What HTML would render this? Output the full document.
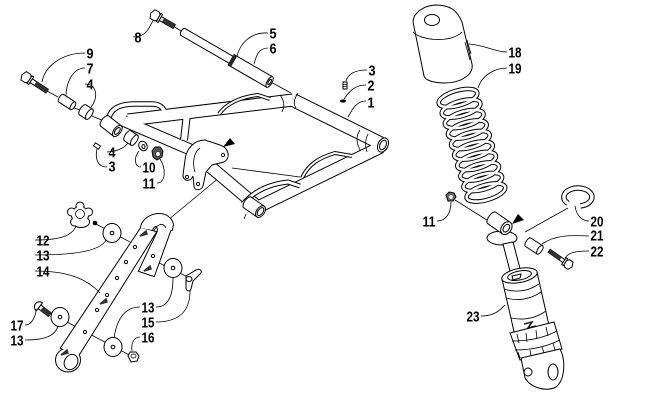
<!DOCTYPE html>
<html><head><meta charset="utf-8">
<style>
html,body{margin:0;padding:0;background:#fff;}
svg{display:block;}
text{font-family:"Liberation Sans Narrow","Liberation Sans",sans-serif;font-weight:bold;font-size:15px;fill:#000;}
.l{fill:none;stroke:#000;stroke-width:0.8;}
.s{fill:#fff;stroke:#000;stroke-width:1;}
.k{fill:#000;}
</style></head>
<body>
<svg width="650" height="406" viewBox="0 0 650 406" xmlns="http://www.w3.org/2000/svg">
<rect width="650" height="406" fill="#fff"/>

<!-- ===== assembly lines (behind) ===== -->
<path class="l" d="M173,26 L183,32 M269,81 L291,93"/>
<path class="l" d="M47,91 L58,97 M74,108 L80,110 M92,116 L104,121"/>
<path class="l" d="M220,177 L168,220"/>
<path class="l" d="M232,168 L300,177"/>
<path class="l" d="M96,224 L130,242"/>
<path class="l" d="M50,313 L133,357"/>
<path class="l" d="M153,260 L190,278"/>
<path class="l" d="M455,200 L490,222"/>
<path class="l" d="M568,208 L525,232"/>

<!-- ===== bolt 8 ===== -->
<g transform="translate(156,16) rotate(30)">
 <path class="s" d="M-6,0 L-4,-5 L1,-5 L3,-3 L3,3 L1,5 L-4,5 Z"/>
 <rect class="s" x="3" y="-4.5" width="2" height="9"/>
 <rect class="s" x="5" y="-2.2" width="16" height="4.4"/>
 <rect x="8" y="-2.2" width="13" height="4.4" fill="#333"/>
</g>

<!-- ===== shaft 5/6 ===== -->
<g transform="translate(183,32) rotate(30)">
 <path class="s" d="M0,-4 L57,-4 L57,4 L0,4 A2,4 0 0 1 0,-4 Z"/>
 <path class="s" d="M57,-6 L100,-6 L100,6 L57,6 Z"/>
 <rect x="55" y="-6.5" width="4" height="13" fill="#222"/>
 <ellipse class="s" cx="100" cy="0" rx="2.5" ry="6"/>
 <ellipse class="s" cx="100" cy="0" rx="1.2" ry="3"/>
</g>

<!-- ===== bolt 9 ===== -->
<g transform="translate(27,78) rotate(33)">
 <path class="s" d="M-6,0 L-4,-5 L1,-5 L3,-3 L3,3 L1,5 L-4,5 Z"/>
 <rect class="s" x="3" y="-4.5" width="2" height="9"/>
 <rect class="s" x="5" y="-2.2" width="19" height="4.4"/>
 <rect x="10" y="-2.2" width="14" height="4.4" fill="#333"/>
</g>

<!-- bushing 7 -->
<g transform="translate(67,102) rotate(33)">
 <path class="s" d="M-7,-4.5 L7,-4.5 L7,4.5 L-7,4.5 A2,4.5 0 0 1 -7,-4.5 Z"/>
 <ellipse class="s" cx="7" cy="0" rx="2" ry="4.5"/>
</g>
<!-- bushing 4 upper -->
<g transform="translate(86,112) rotate(33)">
 <path class="s" d="M-4,-6 L4,-6 L4,6 L-4,6 A2.6,6 0 0 1 -4,-6 Z"/>
 <ellipse class="s" cx="4" cy="0" rx="2.6" ry="6"/>
</g>

<!-- pin 3 lower -->
<g transform="translate(97,146) rotate(33)">
 <rect class="s" x="-3" y="-1.8" width="6" height="3.6"/>
</g>
<!-- bushing 4 lower -->
<g transform="translate(131,138) rotate(33)">
 <path class="s" d="M-4,-6 L4,-6 L4,6 L-4,6 A2.6,6 0 0 1 -4,-6 Z"/>
 <ellipse class="s" cx="4" cy="0" rx="2.6" ry="6"/>
</g>
<!-- washer 10 -->
<ellipse class="s" cx="143" cy="146" rx="4" ry="5" transform="rotate(-30 143 146)"/>
<ellipse class="s" cx="143.5" cy="146.5" rx="1.5" ry="2"/>
<!-- nut 11 -->
<path d="M152,151 L155,147 L160,147 L163,151 L162,157 L157,160 L153,157 Z" fill="#555" stroke="#000" stroke-width="1"/>
<ellipse cx="158" cy="154" rx="2.2" ry="2.5" fill="#fff" stroke="#000" stroke-width=".6"/>

<!-- ===== swing arm frame ===== -->
<g fill="none" stroke-linecap="butt" stroke-linejoin="round">
 <g stroke="#000">
  <path d="M108,121 C110,108 120,104 135,104 L152,104 C160,104 163,108 165,112" stroke-width="5.5"/>
  <path d="M187,114 L184,140" stroke-width="8"/>
  <path d="M128,120 L293,100" stroke-width="13"/>
  <path d="M293,100 L384,145" stroke-width="14"/>
  <path d="M381,147 L258,207" stroke-width="13"/>
  <path d="M124,121 L196,152" stroke-width="12"/>
  <path d="M200,158 L259,208" stroke-width="13"/>
 </g>
 <g stroke="#fff">
  <path d="M108,121 C110,108 120,104 135,104 L152,104 C160,104 163,108 165,112" stroke-width="3.5"/>
  <path d="M187,114 L184,140" stroke-width="6"/>
  <path d="M128,120 L293,100" stroke-width="11"/>
  <path d="M293,100 L384,145" stroke-width="12"/>
  <path d="M381,147 L258,207" stroke-width="11"/>
  <path d="M124,121 L196,152" stroke-width="10"/>
  <path d="M200,158 L259,208" stroke-width="11"/>
 </g>
</g>
<!-- frame details -->
<path class="l" d="M280,95 C284,100 285,106 282,112 M298,93 C294,99 293,104 296,108"/>
<path class="l" d="M360,130 C356,136 356,142 360,150 M368,134 C365,140 365,146 367,152"/>
<!-- wires -->
<g fill="none">
 <path d="M219,114 C226,104 240,97 258,95 L270,99" stroke="#000" stroke-width="4"/>
 <path d="M219,114 C226,104 240,97 258,95 L270,99" stroke="#fff" stroke-width="2"/>
 <path d="M302,178 C308,165 318,158 335,153 L352,156" stroke="#000" stroke-width="4"/>
 <path d="M302,178 C308,165 318,158 335,153 L352,156" stroke="#fff" stroke-width="2"/>
 <path d="M243,204 C254,191 270,184 288,182 L300,186" stroke="#000" stroke-width="5"/>
 <path d="M243,204 C254,191 270,184 288,182 L300,186" stroke="#fff" stroke-width="3"/>
</g>
<!-- left stub at A -->
<g transform="translate(111,126) rotate(38)">
 <path class="s" d="M-8,-6.5 L8,-6.5 L8,6.5 L-8,6.5 A3,6.5 0 0 1 -8,-6.5 Z"/>
 <ellipse class="s" cx="8" cy="0" rx="3.5" ry="6.5"/>
 <ellipse class="s" cx="8" cy="0" rx="2" ry="4"/>
</g>
<!-- end cap C -->
<ellipse class="s" cx="383" cy="145" rx="5" ry="7.5" transform="rotate(25 383 145)"/>
<ellipse class="s" cx="383" cy="145" rx="3" ry="5" transform="rotate(25 383 145)"/>
<!-- eye D -->
<g transform="translate(254,207) rotate(35)">
 <path class="s" d="M-8,-6.5 L8,-6.5 L8,6.5 L-8,6.5 A3,6.5 0 0 1 -8,-6.5 Z"/>
 <ellipse class="s" cx="8" cy="0" rx="4" ry="6.5"/>
 <ellipse class="s" cx="8" cy="0" rx="2.5" ry="4.5"/>
</g>
<path class="l" d="M246,214 L244,219"/>
<!-- bracket plate -->
<path class="s" d="M185,160 C186,148 195,140 205,140 L220,145 C229,148 231,158 224,162 L212,165 L206,172 L203,186 C201,191 194,191 194,186 L193,176 C191,182 183,182 183,175 Z"/>
<path class="l" d="M200,148 C194,152 192,162 195,172"/>
<circle class="s" cx="187" cy="177" r="1.6"/>
<circle class="s" cx="198" cy="184" r="1.6"/>
<circle class="s" cx="223" cy="155" r="1.6"/>
<polygon class="k" points="223,147 230,138 235,144"/>
<!-- grease fitting 3 / washer 2 -->
<rect class="s" x="343" y="82" width="4" height="7"/>
<path class="l" d="M343,84.5 L347,84.5 M343,86.5 L347,86.5"/>
<ellipse class="k" cx="343" cy="101" rx="3" ry="1.6"/>

<!-- ===== strap 14 ===== -->
<g>
 <g fill="#000" stroke="#000" stroke-width="2">
  <polygon points="141,228 156,232 78,356 61,348"/>
  <path d="M141,228 C142,214 168,207 173,224 L172,230 L158,232 C158,225 155,224 152,230 Z"/>
  <polygon points="172,226 158,231 139,271 154,276"/>
  <ellipse cx="68" cy="360" rx="12" ry="11.5"/>
 </g>
 <g fill="#fff">
  <polygon points="141,228 156,232 78,356 61,348"/>
  <path d="M141,228 C142,214 168,207 173,224 L172,230 L158,232 C158,225 155,224 152,230 Z"/>
  <polygon points="172,226 158,231 139,271 154,276"/>
  <ellipse cx="68" cy="360" rx="12" ry="11.5"/>
 </g>
 <ellipse class="s" cx="71" cy="362" rx="6.5" ry="8" transform="rotate(30 71 362)"/>
 <path class="l" d="M154,231 C157,224 163,222 166,228"/>
 <circle class="s" cx="135" cy="247" r="1.6"/>
 <circle class="s" cx="126" cy="262" r="1.6"/>
 <circle class="s" cx="117" cy="278" r="1.6"/>
 <circle class="s" cx="107" cy="295" r="1.6"/>
 <circle class="s" cx="97" cy="310" r="1.6"/>
 <circle class="s" cx="85" cy="332" r="1.6"/>
 <circle class="s" cx="153" cy="256" r="1.6"/>
 <path d="M140,236 L146,231 L147,234 Z M100,304 L106,299 L107,302 Z M61,355 L67,350 L68,353 Z M144,271 L150,266 L151,269 Z" fill="#333" stroke="#333" stroke-width="1.5"/>
</g>

<!-- knob 12 -->
<g>
 <g fill="#000" stroke="#000" stroke-width="2">
  <ellipse cx="81" cy="222" rx="8" ry="5"/>
  <circle cx="80" cy="215" r="8"/>
  <circle cx="80" cy="206" r="3.5"/><circle cx="88.5" cy="212" r="3.5"/><circle cx="85.5" cy="222" r="3.5"/><circle cx="74.5" cy="222" r="3.5"/><circle cx="71.5" cy="212" r="3.5"/>
 </g>
 <g fill="#fff">
  <ellipse cx="81" cy="222" rx="8" ry="5"/>
  <circle cx="80" cy="215" r="8"/>
  <circle cx="80" cy="206" r="3.5"/><circle cx="88.5" cy="212" r="3.5"/><circle cx="85.5" cy="222" r="3.5"/><circle cx="74.5" cy="222" r="3.5"/><circle cx="71.5" cy="212" r="3.5"/>
 </g>
 <circle class="l" cx="80" cy="214" r="4.5"/>
 <circle class="k" cx="95" cy="223" r="2.3"/>
</g>
<!-- washers 13 -->
<ellipse class="s" cx="112" cy="233" rx="9" ry="9.5"/><circle class="s" cx="112" cy="233" r="1.8"/>
<ellipse class="s" cx="173" cy="268" rx="9" ry="9.5"/><circle class="s" cx="173" cy="268" r="1.8"/>
<ellipse class="s" cx="60" cy="317" rx="9" ry="9.5"/><circle class="s" cx="60" cy="317" r="1.8"/>
<ellipse class="s" cx="113" cy="347" rx="9" ry="9.5"/><circle class="s" cx="113" cy="347" r="1.8"/>
<!-- wing nut 15 -->
<path class="s" d="M186,276 L196,270 C200,268 203,271 200,274 L193,281 L191,289 C190,292 186,291 186,288 Z"/>
<ellipse class="s" cx="189" cy="279" rx="3" ry="2.5"/>
<!-- nut 16 -->
<path class="s" d="M128,356 L130,352 L136,352 L139,356 L137,361 L131,362 Z"/>
<ellipse class="l" cx="133.5" cy="356" rx="2.5" ry="2"/>
<!-- bolt 17 -->
<g transform="translate(37,305) rotate(37)">
 <rect class="s" x="3" y="-2.3" width="13" height="4.6"/>
 <rect x="6" y="-2.3" width="10" height="4.6" fill="#333"/>
 <path class="s" d="M3,-5 A5,5 0 0 0 3,5 Z"/>
</g>

<!-- ===== boot 18 ===== -->
<path class="s" d="M413,22 C413,14 422,6 435,5 C450,5 457,10 462,22 L472,64 C474,75 460,83 445,83 C433,83 425,80 424,76 Z"/>
<path class="l" d="M413,32 C420,40 450,44 462,32"/>
<ellipse class="s" cx="432" cy="20" rx="7.5" ry="5.5"/>
<path class="l" d="M465,42 L470,60 M467,40 L471,54"/>

<!-- ===== spring 19 ===== -->
<g fill="none">
 <g stroke="#000" stroke-width="4.6">
  <ellipse cx="458" cy="98" rx="20" ry="7.5" transform="rotate(-16 458 98)"/>
  <ellipse cx="461.1" cy="108.5" rx="20" ry="7.5" transform="rotate(-16 461.1 108.5)"/>
  <ellipse cx="464.2" cy="119" rx="20" ry="7.5" transform="rotate(-16 464.2 119)"/>
  <ellipse cx="467.3" cy="129.5" rx="20" ry="7.5" transform="rotate(-16 467.3 129.5)"/>
  <ellipse cx="470.4" cy="140" rx="20" ry="7.5" transform="rotate(-16 470.4 140)"/>
  <ellipse cx="473.5" cy="150.5" rx="20" ry="7.5" transform="rotate(-16 473.5 150.5)"/>
  <ellipse cx="476.6" cy="161" rx="20" ry="7.5" transform="rotate(-16 476.6 161)"/>
  <ellipse cx="479.7" cy="171.5" rx="20" ry="7.5" transform="rotate(-16 479.7 171.5)"/>
  <ellipse cx="482.8" cy="182" rx="20" ry="7.5" transform="rotate(-16 482.8 182)"/>
  <ellipse cx="485.9" cy="192.5" rx="20" ry="7.5" transform="rotate(-16 485.9 192.5)"/>
 </g>
 <g stroke="#fff" stroke-width="2.6">
  <ellipse cx="458" cy="98" rx="20" ry="7.5" transform="rotate(-16 458 98)"/>
  <ellipse cx="461.1" cy="108.5" rx="20" ry="7.5" transform="rotate(-16 461.1 108.5)"/>
  <ellipse cx="464.2" cy="119" rx="20" ry="7.5" transform="rotate(-16 464.2 119)"/>
  <ellipse cx="467.3" cy="129.5" rx="20" ry="7.5" transform="rotate(-16 467.3 129.5)"/>
  <ellipse cx="470.4" cy="140" rx="20" ry="7.5" transform="rotate(-16 470.4 140)"/>
  <ellipse cx="473.5" cy="150.5" rx="20" ry="7.5" transform="rotate(-16 473.5 150.5)"/>
  <ellipse cx="476.6" cy="161" rx="20" ry="7.5" transform="rotate(-16 476.6 161)"/>
  <ellipse cx="479.7" cy="171.5" rx="20" ry="7.5" transform="rotate(-16 479.7 171.5)"/>
  <ellipse cx="482.8" cy="182" rx="20" ry="7.5" transform="rotate(-16 482.8 182)"/>
  <ellipse cx="485.9" cy="192.5" rx="20" ry="7.5" transform="rotate(-16 485.9 192.5)"/>
 </g>
</g>

<!-- nut 11 right -->
<path d="M446,195 L449,192 L454,193 L456,197 L453,201 L448,201 Z" fill="#666" stroke="#000" stroke-width="1"/>
<ellipse cx="451" cy="197" rx="1.8" ry="2" fill="#fff"/>

<!-- clip 20 -->
<g fill="none">
 <path d="M568,203.4 A14,9 0 1 1 580.4,205.9" stroke="#000" stroke-width="5.5"/>
 <path d="M568,203.4 A14,9 0 1 1 580.4,205.9" stroke="#fff" stroke-width="3.5"/>
</g>

<!-- ===== shock 23 ===== -->
<ellipse class="s" cx="502" cy="238" rx="15" ry="7"/>
<path class="s" d="M503,244 L513,242 L522,276 L512,279 Z"/>
<g transform="translate(499,223) rotate(35)">
 <path class="s" d="M-9,-7 L9,-7 L9,7 L-9,7 A3,7 0 0 1 -9,-7 Z"/>
 <ellipse class="s" cx="9" cy="0" rx="5" ry="7"/>
 <ellipse class="s" cx="9" cy="0" rx="2.8" ry="4.2"/>
</g>
<polygon class="k" points="512,224 518,214 524,220"/>
<!-- spacer 21 -->
<g transform="translate(534,246) rotate(33)">
 <path class="s" d="M-7,-5 L7,-5 L7,5 L-7,5 A2.2,5 0 0 1 -7,-5 Z"/>
 <ellipse class="s" cx="7" cy="0" rx="2.2" ry="5"/>
</g>
<!-- bolt 22 -->
<g transform="translate(568,264) rotate(215)">
 <path class="s" d="M-5,0 L-3,-4.5 L1,-4.5 L3,-2.5 L3,2.5 L1,4.5 L-3,4.5 Z"/>
 <rect class="s" x="3" y="-4" width="2" height="8"/>
 <rect class="s" x="5" y="-1.8" width="18" height="3.6"/>
 <rect x="9" y="-1.8" width="14" height="3.6" fill="#333"/>
</g>
<!-- body -->
<path class="s" d="M502,279 L537,272 L550,330 L515,336 Z"/>
<ellipse class="s" cx="519.5" cy="275.5" rx="18" ry="7" transform="rotate(-11 519.5 275.5)"/>
<ellipse class="s" cx="519.5" cy="275.5" rx="12" ry="4.5" transform="rotate(-11 519.5 275.5)"/>
<path class="s" d="M512,276 L521,274 L520,278 L513,280 Z"/>
<path class="l" d="M504,289 Q523,295 539,284 M506,298 Q525,303 541,292 M511,318 Q530,322 546,311"/>
<path d="M524,324 L532,322 L528,328 L536,326" fill="none" stroke="#222" stroke-width="1.6"/>
<path class="s" d="M510,333 L554,322 L562,349 L520,360 Z"/>
<path class="l" d="M512,341 Q538,341 557,331 M515,350 Q540,350 560,340 M517,334 L519,343 M526,333 L527,342 M536,330 L537,339 M546,327 L548,336 M518,352 L520,358 M530,350 L531,356 M542,347 L544,353 M553,343 L555,350"/>
<path class="s" d="M521,358 L560,349 C566,360 565,380 556,387 C546,392 531,388 525,378 Z"/>
<ellipse class="s" cx="553" cy="372" rx="5" ry="8"/>
<circle class="s" cx="528" cy="372" r="4"/>

<!-- ===== leaders ===== -->
<g class="l">
 <path d="M133,37 C148,37 149,26 153,21"/>
 <path d="M268,33 C250,32 240,44 237,56"/>
 <path d="M268,48 C258,48 256,57 254,64"/>
 <path d="M85,53 C62,53 45,66 42,82"/>
 <path d="M85,68 C72,68 66,84 66,96"/>
 <path d="M85,84 C98,84 98,99 91,107"/>
 <path d="M367,70 C355,70 348,74 346,81"/>
 <path d="M366,85 C356,85 350,90 344,99"/>
 <path d="M366,101 C356,101 352,110 348,117"/>
 <path d="M107,152 C120,151 125,147 128,143"/>
 <path d="M107,167 C97,167 95,158 97,149"/>
 <path d="M141,167 C134,167 134,157 139,151"/>
 <path d="M157,183 C166,183 166,168 160,159"/>
 <path d="M35,240 C60,240 72,236 76,226"/>
 <path d="M35,255 C70,255 100,252 106,240"/>
 <path d="M35,271 C70,271 88,280 100,293"/>
 <path d="M156,307 C170,307 173,292 173,278"/>
 <path d="M140,307 C125,307 117,318 114,338"/>
 <path d="M156,322 C180,322 190,310 190,291"/>
 <path d="M140,337 C133,337 131,345 132,351"/>
 <path d="M25,325 C32,325 36,316 36,309"/>
 <path d="M25,340 C45,340 55,336 58,326"/>
 <path d="M507,52 C495,52 485,45 469,44"/>
 <path d="M507,68 C495,68 482,75 478,88"/>
 <path d="M437,221 C446,221 451,213 451,202"/>
 <path d="M589,221 C580,221 576,213 575,206"/>
 <path d="M589,236 C570,235 555,235 542,244"/>
 <path d="M589,251 C575,251 568,253 565,258"/>
 <path d="M481,316 C495,316 500,310 505,305"/>
</g>

<!-- ===== labels ===== -->
<g>
 <text x="134.5" y="42.5" textLength="7" lengthAdjust="spacingAndGlyphs">8</text>
 <text x="269.5" y="38.5" textLength="7" lengthAdjust="spacingAndGlyphs">5</text>
 <text x="269.5" y="53.5" textLength="7" lengthAdjust="spacingAndGlyphs">6</text>
 <text x="86.5" y="58.5" textLength="7" lengthAdjust="spacingAndGlyphs">9</text>
 <text x="86.5" y="73.5" textLength="7" lengthAdjust="spacingAndGlyphs">7</text>
 <text x="86.5" y="89.5" textLength="7" lengthAdjust="spacingAndGlyphs">4</text>
 <text x="368.5" y="75.5" textLength="7" lengthAdjust="spacingAndGlyphs">3</text>
 <text x="367.5" y="90.5" textLength="7" lengthAdjust="spacingAndGlyphs">2</text>
 <text x="367.5" y="107.5" textLength="7" lengthAdjust="spacingAndGlyphs">1</text>
 <text x="108.5" y="157.5" textLength="7" lengthAdjust="spacingAndGlyphs">4</text>
 <text x="108.5" y="171.5" textLength="7" lengthAdjust="spacingAndGlyphs">3</text>
 <text x="142.5" y="172.5" textLength="13" lengthAdjust="spacingAndGlyphs">10</text>
 <text x="142.5" y="188.5" textLength="13" lengthAdjust="spacingAndGlyphs">11</text>
 <text x="36.5" y="245.5" textLength="13" lengthAdjust="spacingAndGlyphs">12</text>
 <text x="36.5" y="260.5" textLength="13" lengthAdjust="spacingAndGlyphs">13</text>
 <text x="36.5" y="276.5" textLength="13" lengthAdjust="spacingAndGlyphs">14</text>
 <text x="141.5" y="312.5" textLength="13" lengthAdjust="spacingAndGlyphs">13</text>
 <text x="141.5" y="327.5" textLength="13" lengthAdjust="spacingAndGlyphs">15</text>
 <text x="141.5" y="342.5" textLength="13" lengthAdjust="spacingAndGlyphs">16</text>
 <text x="10.5" y="330.5" textLength="13" lengthAdjust="spacingAndGlyphs">17</text>
 <text x="10.5" y="345.5" textLength="13" lengthAdjust="spacingAndGlyphs">13</text>
 <text x="508.5" y="57.5" textLength="13" lengthAdjust="spacingAndGlyphs">18</text>
 <text x="508.5" y="73.5" textLength="13" lengthAdjust="spacingAndGlyphs">19</text>
 <text x="422.5" y="226.5" textLength="13" lengthAdjust="spacingAndGlyphs">11</text>
 <text x="590.5" y="226.5" textLength="13" lengthAdjust="spacingAndGlyphs">20</text>
 <text x="590.5" y="240.5" textLength="13" lengthAdjust="spacingAndGlyphs">21</text>
 <text x="590.5" y="256.5" textLength="13" lengthAdjust="spacingAndGlyphs">22</text>
 <text x="466.5" y="321.5" textLength="13" lengthAdjust="spacingAndGlyphs">23</text>
</g>
</svg>
</body></html>
